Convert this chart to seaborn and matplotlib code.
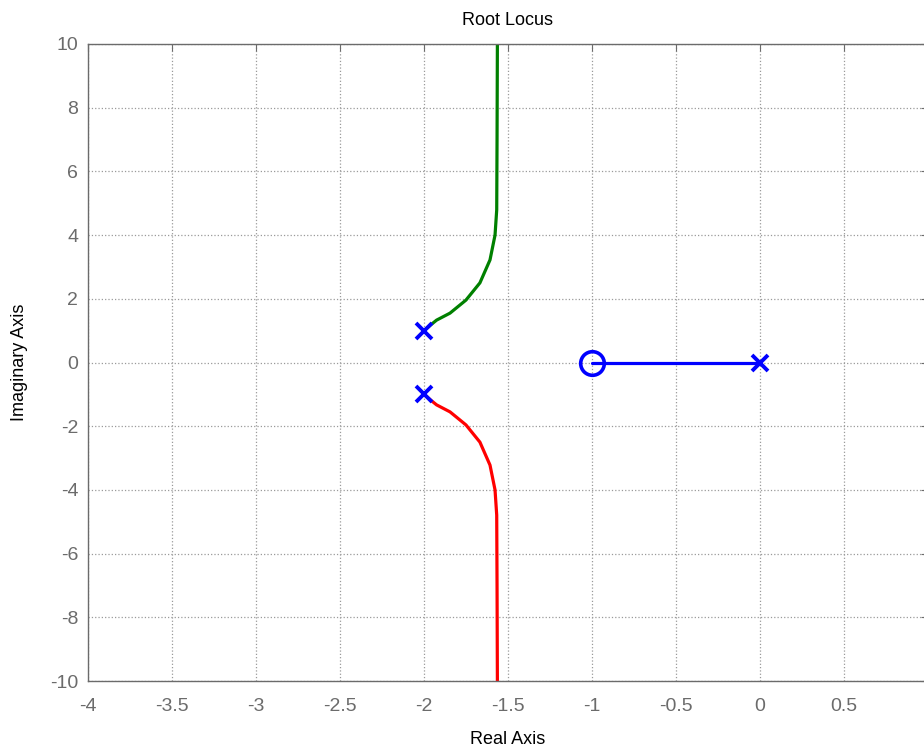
import numpy as np
import pandas as pd
import seaborn as sns
import matplotlib.pyplot as plt

# -----------------------------------------------------
# dane (galezie linii pierwiastkowych)
# -----------------------------------------------------

gal_gorna_re = [-2.00, -1.96, -1.925, -1.845, -1.75, -1.667, -1.607, -1.577, -1.567, -1.565, -1.563]
gal_gorna_im = [1.00, 1.18, 1.33, 1.55, 1.96, 2.50, 3.22, 4.00, 4.79, 7.00, 10.0]

gal_dolna_re = gal_gorna_re
gal_dolna_im = [-v for v in gal_gorna_im]

gal_rzecz_re = [-1.0, -0.5, 0.0]
gal_rzecz_im = [0.0, 0.0, 0.0]

bieguny_re = [-2.0, -2.0, 0.0]
bieguny_im = [1.0, -1.0, 0.0]

zera_re = [-1.0]
zera_im = [0.0]

x_ticks = [-4, -3.5, -3, -2.5, -2, -1.5, -1, -0.5, 0, 0.5, 1]
y_ticks = [-10, -8, -6, -4, -2, 0, 2, 4, 6, 8, 10]

# -----------------------------------------------------
# styl
# -----------------------------------------------------

sns.set_style("white")
plt.rcParams["font.family"] = ["Liberation Sans", "DejaVu Sans"]

SZARY = "#6b6b6b"

fig = plt.figure(figsize=(9.24, 7.52), dpi=100)
ax = fig.add_axes([0.0952, 0.0944, 0.9091, 0.8471])

df_g = pd.DataFrame({"re": gal_gorna_re, "im": gal_gorna_im})
df_d = pd.DataFrame({"re": gal_dolna_re, "im": gal_dolna_im})
df_r = pd.DataFrame({"re": gal_rzecz_re, "im": gal_rzecz_im})

sns.lineplot(data=df_g, x="re", y="im", sort=False, estimator=None,
             color="#008000", linewidth=2.3, ax=ax)
sns.lineplot(data=df_d, x="re", y="im", sort=False, estimator=None,
             color="#ff0000", linewidth=2.3, ax=ax)
sns.lineplot(data=df_r, x="re", y="im", sort=False, estimator=None,
             color="#0000ff", linewidth=2.3, ax=ax)

ax.plot(bieguny_re, bieguny_im, linestyle="none", marker="x",
        markersize=12, markeredgewidth=2.8, color="#0000ff", zorder=5)
ax.plot(zera_re, zera_im, linestyle="none", marker="o",
        markersize=17, markeredgewidth=2.6, markerfacecolor="none",
        markeredgecolor="#0000ff", zorder=5)

# -----------------------------------------------------
# osie
# -----------------------------------------------------

ax.set_xlim(-4, 1)
ax.set_ylim(-10, 10)
ax.set_xticks(x_ticks)
ax.set_yticks(y_ticks)
ax.set_xticklabels([f"{t:g}" for t in x_ticks])
ax.set_yticklabels([f"{t:g}" for t in y_ticks])

ax.grid(True, linestyle=":", color="#9a9a9a", linewidth=0.9)
ax.tick_params(direction="in", length=5, width=0.8, colors=SZARY,
               labelsize=14, top=True, right=True)
ax.tick_params(axis="x", pad=12)
ax.tick_params(axis="y", pad=7)
for s in ax.spines.values():
    s.set_color(SZARY)
    s.set_linewidth(1.0)

ax.set_title("Root Locus", fontsize=13, color="black", pad=14)
ax.set_xlabel("Real Axis", fontsize=13, color="black", labelpad=12)
ax.set_ylabel("Imaginary Axis", fontsize=13, color="black", labelpad=16)

fig.savefig("out.png", dpi=100)
